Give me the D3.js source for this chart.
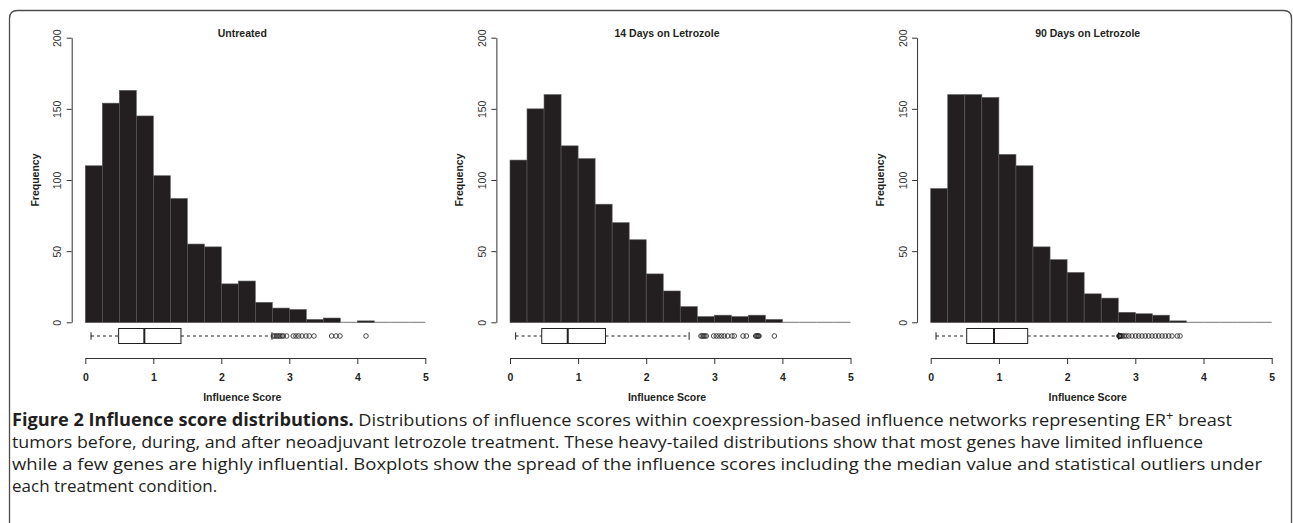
<!DOCTYPE html>
<html><head><meta charset="utf-8">
<script src="https://cdn.jsdelivr.net/npm/d3@7"></script>
<style>body{margin:0;background:#fff}svg{display:block}</style>
</head><body>
<svg id="c" width="1293" height="523"></svg>
<script>
// ---------- data ----------
const titles = ["Untreated", "14 Days on Letrozole", "90 Days on Letrozole"];
const binStarts = [0, 0.25, 0.5, 0.75, 1, 1.25, 1.5, 1.75, 2, 2.25, 2.5, 2.75, 3, 3.25, 3.5, 3.75, 4, 4.25, 4.5, 4.75];
const binWidth = 0.25;
const untreatedCounts = [110, 154, 163, 145, 103, 87, 55, 53, 27, 29, 14, 10, 9, 2, 3, 0, 1, 0, 0, 0];
const day14Counts     = [114, 150, 160, 124, 115, 83, 70, 58, 34, 22, 11, 4, 5, 4, 5, 2, 0, 0, 0, 0];
const day90Counts     = [94, 160, 160, 158, 118, 110, 53, 44, 35, 20, 17, 7, 6, 5, 1, 0, 0, 0, 0, 0];
// boxplot stats: [lower whisker, Q1, median, Q3, upper whisker]
const untreatedBox = [0.084, 0.49, 0.868, 1.407, 2.745];
const day14Box     = [0.083, 0.466, 0.848, 1.402, 2.63];
const day90Box     = [0.078, 0.528, 0.928, 1.422, 2.757];
const untreatedOutliers = [2.765, 2.79, 2.814, 2.84, 2.863, 2.89, 2.912, 2.961, 3.059, 3.098, 3.137, 3.186, 3.245, 3.294, 3.363, 3.623, 3.687, 3.745, 4.128];
const day14Outliers = [2.804, 2.823, 2.843, 2.862, 2.882, 2.99, 3.029, 3.069, 3.108, 3.147, 3.196, 3.26, 3.294, 3.422, 3.471, 3.608, 3.62, 3.635, 3.648, 3.657, 3.882];
const day90Outliers = [2.76, 2.765, 2.77, 2.776, 2.79, 2.805, 2.834, 2.864, 2.903, 2.952, 3.005, 3.05, 3.098, 3.147, 3.196, 3.245, 3.294, 3.343, 3.392, 3.44, 3.49, 3.538, 3.616, 3.656];
const yTicks = [0, 50, 100, 150, 200];
const xTicks = [0, 1, 2, 3, 4, 5];
const yLabel = "Frequency";
const xLabel = "Influence Score";

const panels = [
  {title: titles[0], counts: untreatedCounts, box: untreatedBox, outliers: untreatedOutliers},
  {title: titles[1], counts: day14Counts, box: day14Box, outliers: day14Outliers},
  {title: titles[2], counts: day90Counts, box: day90Box, outliers: day90Outliers}
];

// ---------- layout ----------
const layout = [{x0: 85.3, x5: 425.3}, {x0: 510, x5: 850.5}, {x0: 930.7, x5: 1271.7}];
const yTop = 37.7, yBase = 322.3;
const boxY = 336, boxH = 15, axisY = 358;
const ink = "#231f20", axisCol = "#333";
const font = "'Liberation Sans', Arial, Helvetica, sans-serif";

const svg = d3.select("#c");

// frame
svg.append("path")
  .attr("d", "M9.5,540 V18.5 Q9.5,10.5 17.5,10.5 H1283.5 Q1291.5,10.5 1291.5,18.5 V540")
  .attr("fill", "none").attr("stroke", "#4d4d4d").attr("stroke-width", 1.3);

panels.forEach((p, i) => {
  const L = layout[i];
  const x = d3.scaleLinear().domain([0, 5]).range([L.x0, L.x5]);
  const y = d3.scaleLinear().domain([0, 200]).range([yBase, yTop]);
  const g = svg.append("g");
  const bins = p.counts.map((c, j) => ({s: binStarts[j], c}));

  // baseline segments (visible under empty bins)
  g.selectAll("line.base").data(bins).join("line")
    .attr("x1", d => x(d.s)).attr("x2", d => x(d.s + binWidth))
    .attr("y1", y(0)).attr("y2", y(0))
    .attr("stroke", "#555").attr("stroke-width", 0.8);

  // histogram bars
  g.selectAll("rect.bar").data(bins.filter(d => d.c > 0)).join("rect")
    .attr("x", d => x(d.s)).attr("width", d => x(d.s + binWidth) - x(d.s))
    .attr("y", d => y(d.c)).attr("height", d => y(0) - y(d.c))
    .attr("fill", ink).attr("stroke", "#5a5a5a").attr("stroke-width", 0.6);

  // y axis
  const ya = g.append("g").attr("transform", `translate(${x(-0.2)},0)`)
    .call(d3.axisLeft(y).tickValues(yTicks).tickSize(5).tickSizeOuter(0));
  ya.select(".domain").attr("stroke", axisCol);
  ya.selectAll(".tick line").attr("stroke", axisCol);
  ya.selectAll(".tick text")
    .attr("x", 0).attr("dy", 0).attr("text-anchor", "middle")
    .attr("transform", "translate(-10.3,0) rotate(-90)")
    .attr("font-size", 10.5).attr("font-family", font).attr("fill", "#333");

  // x axis
  const xa = g.append("g").attr("transform", `translate(0,${axisY})`)
    .call(d3.axisBottom(x).tickValues(xTicks).tickFormat(d3.format("d")).tickSize(6).tickSizeOuter(0));
  xa.select(".domain").attr("stroke", axisCol);
  xa.selectAll(".tick line").attr("stroke", axisCol);
  xa.selectAll(".tick text")
    .attr("y", 23).attr("dy", 0)
    .attr("font-size", 10.5).attr("font-weight", "bold").attr("font-family", font).attr("fill", ink);

  // boxplot
  const [lo, q1, med, q3, hi] = p.box;
  const bx = g.append("g");
  bx.append("line").attr("x1", x(lo)).attr("x2", x(q1)).attr("y1", boxY).attr("y2", boxY)
    .attr("stroke", ink).attr("stroke-dasharray", "3,3");
  bx.append("line").attr("x1", x(q3)).attr("x2", x(hi)).attr("y1", boxY).attr("y2", boxY)
    .attr("stroke", ink).attr("stroke-dasharray", "3,3");
  [lo, hi].forEach(v => bx.append("line").attr("x1", x(v)).attr("x2", x(v))
    .attr("y1", boxY - boxH / 4).attr("y2", boxY + boxH / 4).attr("stroke", ink));
  bx.append("rect").attr("x", x(q1)).attr("width", x(q3) - x(q1))
    .attr("y", boxY - boxH / 2).attr("height", boxH)
    .attr("fill", "#fff").attr("stroke", ink).attr("stroke-width", 1);
  bx.append("line").attr("x1", x(med)).attr("x2", x(med))
    .attr("y1", boxY - boxH / 2).attr("y2", boxY + boxH / 2)
    .attr("stroke", ink).attr("stroke-width", 2);
  bx.selectAll("circle").data(p.outliers).join("circle")
    .attr("cx", d => x(d)).attr("cy", boxY).attr("r", 2.3)
    .attr("fill", "none").attr("stroke", ink).attr("stroke-width", 0.8);

  // titles and labels
  g.append("text").attr("x", L.x0 + 157).attr("y", 37).attr("text-anchor", "middle")
    .attr("font-family", font).attr("font-size", 10.5).attr("font-weight", "bold").attr("fill", ink)
    .text(p.title);
  g.append("text").attr("x", L.x0 + 157).attr("y", 401).attr("text-anchor", "middle")
    .attr("font-family", font).attr("font-size", 10.5).attr("font-weight", "bold").attr("fill", ink)
    .text(xLabel);
  g.append("text").attr("transform", `translate(${x(-0.2) - 33},${y(100)}) rotate(-90)`)
    .attr("text-anchor", "middle")
    .attr("font-family", font).attr("font-size", 10.5).attr("font-weight", "bold").attr("fill", ink)
    .text(yLabel);
});

// ---------- caption ----------
const capFont = "'Open Sans', 'Noto Sans', sans-serif";
const cap = svg.append("g").attr("font-family", capFont).attr("font-size", 17).attr("fill", ink);
const l1 = cap.append("text").attr("x", 12).attr("y", 426)
  .attr("textLength", 1220).attr("lengthAdjust", "spacingAndGlyphs");
l1.append("tspan").attr("font-weight", "bold").text("Figure 2 Influence score distributions.");
l1.append("tspan").text(" Distributions of influence scores within coexpression-based influence networks representing ER");
l1.append("tspan").attr("font-size", 12).attr("dy", -6).text("+");
l1.append("tspan").attr("dy", 6).text(" breast");
cap.append("text").attr("x", 12).attr("y", 448)
  .attr("textLength", 1191).attr("lengthAdjust", "spacingAndGlyphs")
  .text("tumors before, during, and after neoadjuvant letrozole treatment. These heavy-tailed distributions show that most genes have limited influence");
cap.append("text").attr("x", 12).attr("y", 470)
  .attr("textLength", 1250).attr("lengthAdjust", "spacingAndGlyphs")
  .text("while a few genes are highly influential. Boxplots show the spread of the influence scores including the median value and statistical outliers under");
cap.append("text").attr("x", 12).attr("y", 492)
  .text("each treatment condition.");
</script>
</body></html>
